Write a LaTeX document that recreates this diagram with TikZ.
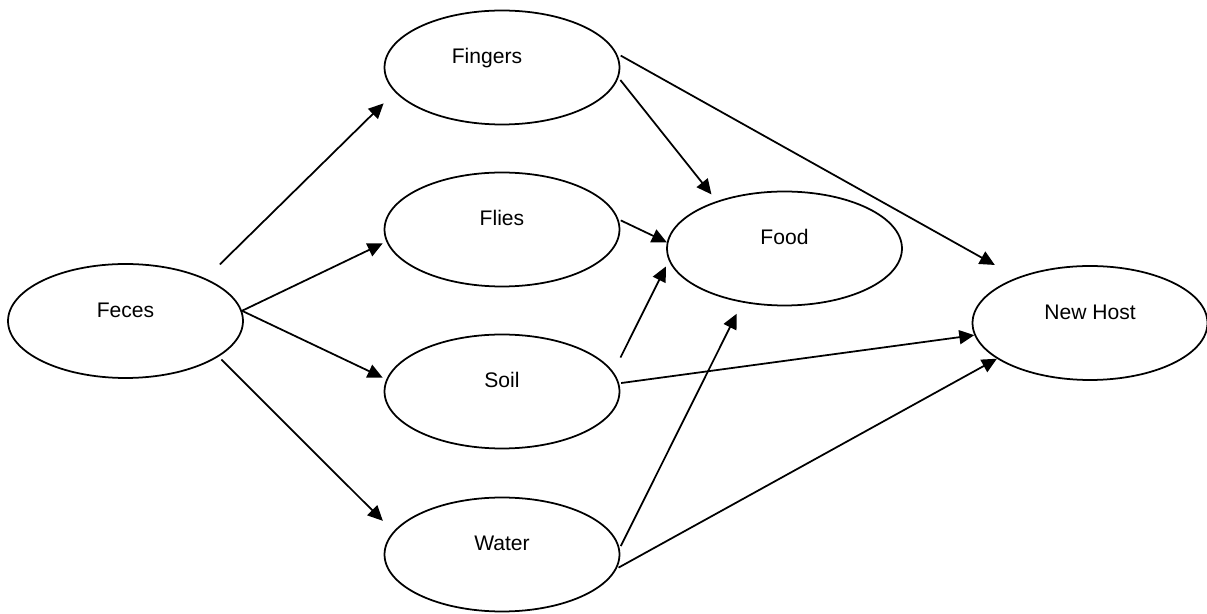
\documentclass[tikz,border=0pt]{standalone}
\usepackage{fontspec}
\setmainfont{Liberation Sans}
\usetikzlibrary{shapes.geometric, arrows.meta}

\begin{document}
\begin{tikzpicture}[x=0.02cm, y=-0.02cm]
  \tikzstyle{blob}=[ellipse, draw, line width=1pt, minimum width=4.7cm,
  minimum height=2.28cm, text height=9pt, text depth=13.4pt,
  font=\fontsize{12}{14}\selectfont]
  \tikzstyle{route}=[line width=1pt, -{Triangle[length=0.3cm, width=0.28cm]}]

  \useasboundingbox (0,0) rectangle (1207,614);

  \node (feces) at (125.5,321) [blob] {Feces};

  \node (fingers) at (502,67.5) [blob] {\hspace*{-0.6cm}Fingers};
  \node (flies) at (502,229.5) [blob] {Flies};
  \node (soil) at (502,391.5) [blob] {Soil};
  \node (water) at (502,554.5) [blob] {Water};

  \node (food) at (784.5,248.5) [blob] {Food};
  \node (newhost) at (1090,323) [blob] {New Host};

  \draw[route, shorten <=0.4cm, shorten >=0.32cm] (feces.28) -- (fingers.193);
  \draw[route, shorten >=0.08cm] (feces.5) -- (flies.186);
  \draw[route, shorten >=0.08cm] (feces.5) -- (soil.174);
  \draw[route, shorten <=0.08cm, shorten >=0.3cm] (feces.339) -- (water.168);

  \draw[route, shorten <=0.09cm, shorten >=0.51cm] (fingers.7) -- (newhost.148);
  \draw[route, shorten <=0.06cm, shorten >=0.17cm] (fingers.355) -- (food.145);
  \draw[route, shorten <=0.05cm] (flies.5) -- (food.177);
  \draw[route, shorten <=0.32cm, shorten >=0.13cm] (soil.10) -- (food.186);
  \draw[route, shorten <=0.04cm] (soil.4) -- (newhost.186);
  \draw[route, shorten <=0.05cm, shorten >=0.25cm] (water.3) -- (food.232);
  \draw[route, shorten <=0.04cm] (water.353) -- (newhost.201);

\end{tikzpicture}
\end{document}
